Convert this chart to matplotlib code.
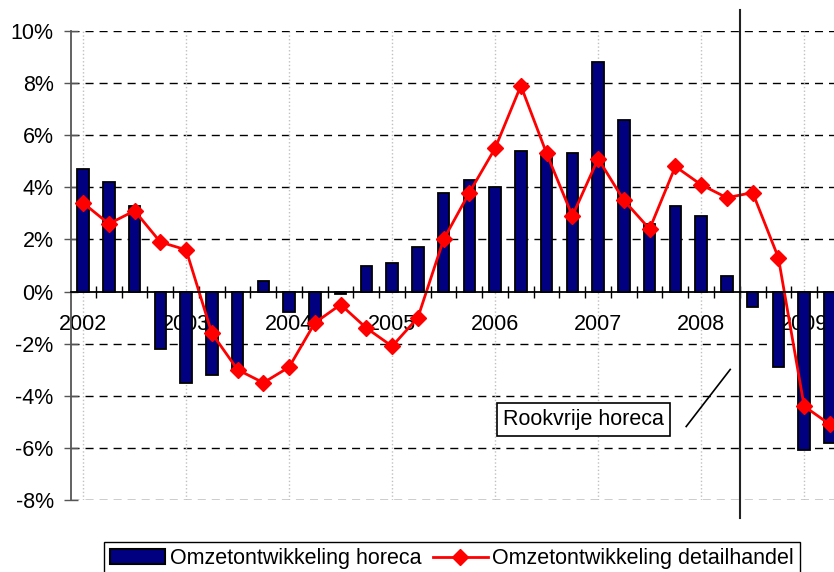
import numpy as np
import matplotlib
matplotlib.use("Agg")
import matplotlib.pyplot as plt
from matplotlib.ticker import FuncFormatter, FixedLocator
from matplotlib.patches import Patch
from matplotlib.lines import Line2D

plt.rcParams['font.family'] = ['Liberation Sans', 'DejaVu Sans']
plt.rcParams['axes.unicode_minus'] = False

years = ['2002', '2003', '2004', '2005', '2006', '2007', '2008', '2009']

# quarterly growth, 2002 Q1 .. 2009 Q2 (%)
horeca = [4.7, 4.2, 3.3, -2.2, -3.5, -3.2, -3.0, 0.4,
          -0.8, -1.1, -0.1, 1.0, 1.1, 1.7, 3.8, 4.3,
          4.0, 5.4, 5.2, 5.3, 8.8, 6.6, 2.6, 3.3,
          2.9, 0.6, -0.6, -2.9, -6.1, -5.8]
detailhandel = [3.4, 2.6, 3.1, 1.9, 1.6, -1.6, -3.0, -3.5,
                -2.9, -1.2, -0.5, -1.4, -2.1, -1.0, 2.0, 3.8,
                5.5, 7.9, 5.3, 2.9, 5.1, 3.5, 2.4, 4.8,
                4.1, 3.6, 3.8, 1.3, -4.4, -5.1]

smoke_ban = 25.5   # between 2008 Q2 and Q3
note_text = 'Rookvrije horeca'
fs = 15.5

x = np.arange(len(horeca))

fig = plt.figure(figsize=(8.34, 5.72), dpi=100)
ax = fig.add_axes([71/834, 1 - 500/572, 1 - 71/834, 469/572])

ax.bar(x, horeca, width=0.44, color='#000080', edgecolor='black',
       linewidth=1.3, zorder=3)
ax.plot(x, detailhandel, color='#ff0000', lw=2, marker='D', ms=8.5,
        zorder=4)

ax.set_xlim(-0.47, 29.16)
ax.set_ylim(-8, 10)

# y axis
ax.set_yticks(np.arange(-8, 11, 2))
ax.yaxis.set_major_formatter(FuncFormatter(lambda v, p: f'{v:.0f}%'))
ax.tick_params(axis='y', direction='inout', length=10, width=1,
               color='#555555', labelsize=fs, pad=7.5)
for v in np.arange(-8, 11, 2):
    if v != 0:
        ax.axhline(v, color='black', lw=1, dashes=(5.8, 4.3), zorder=1)

# x axis at zero
ax.spines['bottom'].set_position(('data', 0))
ax.spines['bottom'].set_linewidth(1.3)
ax.spines['bottom'].set_zorder(5)
ax.spines['top'].set_visible(False)
ax.spines['right'].set_visible(False)
ax.spines['left'].set_color('#555555')
ax.spines['left'].set_linewidth(1.3)

ax.set_xticks(np.arange(0, len(horeca), 4))
ax.set_xticklabels(years)
ax.xaxis.set_minor_locator(FixedLocator(np.arange(-0.5, len(horeca), 1)))
ax.tick_params(axis='x', which='major', length=0, labelsize=fs, pad=16)
ax.tick_params(axis='x', which='minor', direction='inout', length=8,
               width=1, color='black')
for t in np.arange(0, len(horeca), 4):
    ax.axvline(t, color='#c0c0c0', lw=1, ls=':', zorder=1)

# smoke ban marker
ax.axvline(smoke_ban, ymin=-0.038, ymax=1.045, color='#222222', lw=1.5,
           clip_on=False, zorder=5)
ax.text(19.42, -4.91, note_text, fontsize=fs, ha='center', va='center',
        zorder=6,
        bbox=dict(boxstyle='square,pad=0.28', fc='white', ec='black', lw=1.2))
ax.plot([23.42, 25.13], [-5.18, -2.99], color='black', lw=1.2, zorder=6)

handles = [Patch(facecolor='#000080', edgecolor='black', linewidth=1.5),
           Line2D([], [], color='#ff0000', lw=2, marker='D', ms=8.5)]
fig.legend(handles, ['Omzetontwikkeling horeca',
                     'Omzetontwikkeling detailhandel'],
           loc='upper left', bbox_to_anchor=(104/834, 1 - 541.7/572),
           ncol=2, fontsize=fs, frameon=True, fancybox=False,
           edgecolor='black', framealpha=1, handlelength=2.55,
           handleheight=0.68, handletextpad=0.2, columnspacing=0.55,
           borderpad=0.3, borderaxespad=0)

fig.savefig('out.png', dpi=100)
